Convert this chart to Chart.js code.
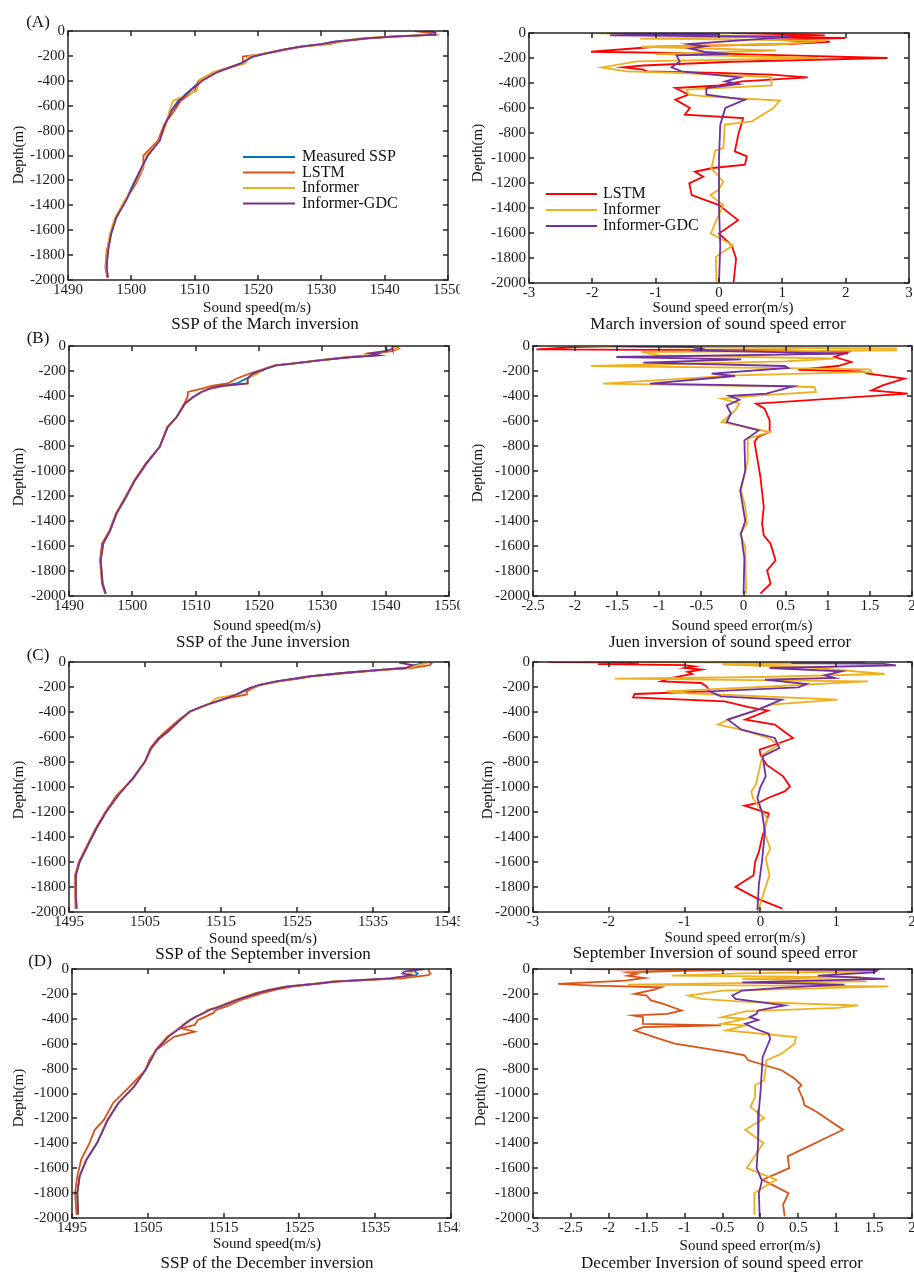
<!DOCTYPE html>
<html>
<head>
<meta charset="utf-8">
<script src="https://cdn.jsdelivr.net/npm/chart.js@4.4.0/dist/chart.umd.min.js"></script>
<style>
  body { margin: 0; background: #fff; width: 914px; height: 1272px; position: relative; overflow: hidden;
         font-family: "Liberation Serif", "Times New Roman", serif; color: #111; }
  canvas { position: absolute; }
  .t { position: absolute; white-space: nowrap; transform: translate(-50%, -50%); line-height: 1; }
  .yl { position: absolute; white-space: nowrap; transform: translate(-50%, -50%) rotate(-90deg); font-size: 15px; line-height: 1; }
</style>
</head>
<body>
<script>
// ---- tick labels ----
const depthTicks = [0, -200, -400, -600, -800, -1000, -1200, -1400, -1600, -1800, -2000];
const speedTicksAB = [1490, 1500, 1510, 1520, 1530, 1540, 1550];
const speedTicksCD = [1495, 1505, 1515, 1525, 1535, 1545];
const errTicksA = [-3, -2, -1, 0, 1, 2, 3];
const errTicksB = [-2.5, -2, -1.5, -1, -0.5, 0, 0.5, 1, 1.5, 2];
const errTicksC = [-3, -2, -1, 0, 1, 2];
const errTicksD = [-3, -2.5, -2, -1.5, -1, -0.5, 0, 0.5, 1, 1.5, 2];

// ---- (A) March: sound speed profiles ----
const marDepth = [0, -15, -30, -45, -60, -85, -105, -125, -150, -180, -205, -260, -330, -400, -480, -560, -640, -750, -880, -1000, -1100, -1230, -1360, -1500, -1630, -1770, -1900, -1980];
const marMeasured = [1546, 1547.5, 1547.8, 1541, 1537, 1532, 1530, 1526.6, 1524, 1521.3, 1519.2, 1517.3, 1513.5, 1511, 1509.2, 1507.4, 1506.3, 1505.3, 1504.4, 1502.6, 1501.6, 1500.3, 1499.1, 1497.6, 1496.8, 1496.3, 1496.1, 1496.3];
const marLstm = [1544.8, 1547, 1548, 1542, 1537.5, 1533, 1531.3, 1527, 1524.5, 1521.5, 1517.6, 1517.6, 1513, 1510.6, 1510, 1507.8, 1506.8, 1505.2, 1504.2, 1501.9, 1501.9, 1500.7, 1499, 1497.5, 1496.7, 1496.1, 1495.9, 1496.2];
const marInformer = [1547, 1548, 1547.5, 1540.5, 1536, 1533, 1530.5, 1527, 1524, 1521, 1518.5, 1518, 1513, 1510.8, 1510.3, 1506.6, 1506, 1505.5, 1504.4, 1502.4, 1501.8, 1500.5, 1499, 1497.4, 1496.6, 1496.2, 1496, 1496.3];
const marGdc = [1547, 1548, 1548, 1541, 1537, 1532.3, 1530, 1526.8, 1524, 1521.3, 1519.2, 1517.3, 1513.6, 1511.2, 1509.3, 1507.6, 1506.4, 1505.3, 1504.5, 1502.6, 1501.6, 1500.4, 1499.2, 1497.6, 1496.8, 1496.3, 1496.1, 1496.3];

// ---- (A) March: sound speed error ----
const marErrLstmDepth = [0, -8, -19, -30, -40, -55, -70, -88, -110, -150, -165, -200, -230, -260, -275, -293, -307, -320, -333, -355, -387, -420, -440, -493, -533, -600, -653, -680, -720, -800, -947, -987, -1053, -1080, -1110, -1150, -1203, -1297, -1377, -1497, -1604, -1698, -1805, -1992];
const marErrLstm = [0.2, 1.0, 1.67, 0.5, 1.99, 0.8, 1.75, 1.1, -1.0, -2.02, 0.0, 2.66, 0.2, -1.2, -1.51, -1.2, -1.14, 0.0, 0.83, 1.4, 0.36, 0.0, -0.69, -0.48, -0.69, -0.46, -0.54, 0.38, 0.36, 0.31, 0.25, 0.44, 0.41, -0.1, -0.38, -0.25, -0.47, -0.43, 0.0, 0.3, 0.0, 0.2, 0.27, 0.23];
const marErrInfDepth = [0, -8, -20, -30, -45, -61, -88, -110, -140, -168, -200, -227, -275, -307, -320, -340, -355, -419, -453, -493, -507, -541, -600, -707, -733, -920, -941, -1083, -1190, -1257, -1297, -1377, -1497, -1604, -1698, -1791, -1992];
const marErrInf = [-1.98, -1.5, 0.0, 1.0, -1.25, 1.69, 1.05, -1.22, 0.9, -1.0, 1.57, -1.3, -1.85, -1.46, -0.59, 0.3, 0.83, 0.83, -0.51, -0.48, -0.22, 0.96, 0.86, 0.52, 0.09, 0.07, -0.06, -0.12, 0.07, -0.01, -0.14, 0.07, -0.04, -0.13, 0.22, -0.05, -0.04];
const marErrGdcDepth = [0, -8, -19, -30, -53, -88, -107, -125, -152, -168, -179, -227, -275, -307, -355, -387, -408, -440, -493, -533, -600, -733, -1000, -1400, -1700, -1992];
const marErrGdc = [-1.77, 0.0, -1.72, 1.15, 0.5, -0.48, -0.22, -0.45, -0.22, 0.15, -0.67, -0.62, -0.75, -0.59, 0.33, 0.1, 0.31, -0.2, -0.2, 0.41, 0.1, 0.02, 0.0, 0.0, 0.02, 0.0];

// ---- (B) June: sound speed profiles ----
const junDepth = [0, -20, -40, -60, -75, -90, -115, -141, -155, -181, -221, -260, -300, -320, -341, -368, -408, -461, -568, -648, -808, -941, -1075, -1208, -1341, -1475, -1581, -1715, -1901, -1981];
const junMeasured = [1540, 1540, 1540.5, 1538.5, 1538, 1534, 1529.5, 1525.3, 1522.7, 1521.1, 1519.5, 1518, 1516.5, 1514, 1512.2, 1510.9, 1509.6, 1508.3, 1507, 1505.6, 1504.3, 1502.2, 1500.4, 1499, 1497.5, 1496.5, 1495.4, 1495, 1495.3, 1495.8];
const junLstm = [1541.5, 1542.1, 1541, 1538, 1538.5, 1534, 1529.5, 1525, 1522.5, 1521, 1518.5, 1516.5, 1515, 1512.5, 1511, 1508.8, 1508.7, 1508.2, 1507, 1505.5, 1504.3, 1502.1, 1500.3, 1498.9, 1497.4, 1496.4, 1495.2, 1494.9, 1495.2, 1495.7];
const junInformer = [1541, 1541.8, 1540.2, 1537, 1536.6, 1534, 1529.3, 1525.5, 1522.5, 1520.8, 1519.8, 1518.2, 1518.3, 1514.5, 1512.4, 1511, 1509.7, 1508.4, 1507, 1505.6, 1504.3, 1502.2, 1500.4, 1499, 1497.5, 1496.5, 1495.4, 1495, 1495.3, 1495.8];
const junGdc = [1541, 1541.1, 1540.3, 1537.4, 1539, 1534.3, 1529.5, 1525.3, 1522.7, 1521.1, 1519, 1518.2, 1518.2, 1514, 1512.2, 1510.9, 1509.6, 1508.3, 1507, 1505.6, 1504.3, 1502.2, 1500.4, 1499, 1497.5, 1496.5, 1495.4, 1495, 1495.3, 1495.8];

// ---- (B) June: sound speed error ----
const junErrLstmDepth = [0, -8, -27, -35, -48, -88, -128, -160, -190, -203, -221, -261, -315, -355, -381, -461, -501, -595, -688, -728, -768, -1048, -1288, -1421, -1515, -1581, -1715, -1795, -1901, -1981];
const junErrLstm = [-1.5, -2.0, -2.46, 0.5, 1.24, 1.08, 1.28, 1.12, 0.65, 1.4, 1.48, 1.91, 1.65, 1.52, 1.95, 0.15, 0.25, 0.31, 0.31, 0.17, 0.13, 0.2, 0.24, 0.22, 0.24, 0.32, 0.38, 0.28, 0.32, 0.2];
const junErrInfDepth = [0, -10, -20, -35, -48, -75, -100, -123, -160, -175, -187, -208, -235, -301, -328, -368, -395, -421, -460, -515, -608, -688, -741, -915, -1155, -1288, -1421, -1501, -1608, -1981];
const junErrInf = [-2.04, -1.0, 1.81, 1.81, -1.21, -1.0, 1.08, 0.5, -1.81, 0.21, 1.5, 1.52, -0.1, -1.67, 0.84, 0.86, 0.2, -0.26, -0.05, -0.1, -0.26, 0.31, 0.05, 0.05, -0.03, 0.02, 0.04, -0.04, 0.02, 0.03];
const junErrGdcDepth = [0, -8, -20, -35, -61, -88, -107, -133, -160, -176, -221, -240, -301, -323, -381, -400, -430, -475, -540, -608, -675, -755, -1000, -1155, -1400, -1501, -1700, -1981];
const junErrGdc = [-1.57, -0.62, -0.5, -0.58, 1.24, -1.51, -0.03, -1.19, 0.49, 0.53, -0.38, -0.1, -1.11, 0.59, 0.27, -0.17, -0.05, -0.2, -0.15, -0.2, 0.18, 0.01, 0.02, -0.04, 0.02, -0.03, 0.01, 0.0];

// ---- (C) September: sound speed profiles ----
const sepDepth = [0, -10, -25, -48, -61, -88, -115, -128, -155, -182, -209, -235, -260, -289, -342, -396, -449, -556, -610, -690, -797, -930, -1064, -1198, -1332, -1465, -1599, -1706, -1866, -1973];
const sepMeasured = [1541, 1541.5, 1540.5, 1539.3, 1536.3, 1531, 1526.6, 1525.3, 1522.3, 1520.1, 1518.8, 1517.9, 1517, 1515.7, 1513.1, 1510.9, 1509.9, 1508, 1506.9, 1505.8, 1505, 1503.4, 1501.5, 1499.9, 1498.6, 1497.5, 1496.4, 1495.9, 1495.9, 1496];
const sepLstm = [1542.3, 1542.7, 1542.5, 1540, 1537, 1531.5, 1527, 1525.6, 1522.6, 1520.3, 1519.2, 1518.4, 1518.4, 1515.9, 1513.2, 1511, 1509.7, 1507.7, 1506.7, 1505.7, 1505, 1503.5, 1501.3, 1499.8, 1498.5, 1497.4, 1496.3, 1495.8, 1495.8, 1495.9];
const sepInformer = [1541.5, 1542, 1541, 1539.5, 1536.5, 1531.2, 1526.8, 1525.5, 1522.6, 1520.2, 1519, 1518, 1517.2, 1514.4, 1513.3, 1511, 1509.9, 1508.1, 1507, 1505.9, 1505, 1503.4, 1501.5, 1499.9, 1498.6, 1497.5, 1496.4, 1495.9, 1495.9, 1496];
const sepGdc = [1539.3, 1538.8, 1540.2, 1539.3, 1536.3, 1531, 1526.6, 1525.3, 1522.3, 1520.1, 1518.8, 1517.9, 1517, 1515.7, 1513.1, 1510.9, 1509.9, 1508, 1506.9, 1505.8, 1505, 1503.4, 1501.5, 1499.9, 1498.6, 1497.5, 1496.4, 1495.9, 1495.9, 1496];

// ---- (C) September: sound speed error ----
const sepErrLstmDepth = [0, -5, -16, -25, -35, -48, -61, -80, -96, -130, -155, -168, -195, -235, -256, -283, -315, -363, -389, -461, -501, -568, -608, -648, -701, -741, -821, -915, -995, -1035, -1088, -1128, -1149, -1211, -1412, -1519, -1599, -1706, -1799, -1893, -1973];
const sepErrLstm = [-2.8, -1.6, -2.14, -1.0, -0.87, -1.0, -0.78, -0.96, -0.9, -1.2, -1.31, -0.78, -0.71, -0.67, -1.66, -1.68, -0.47, -0.14, 0.1, -0.2, 0.19, 0.34, 0.43, 0.25, -0.01, 0.0, 0.08, 0.3, 0.39, 0.32, 0.1, -0.03, -0.21, 0.11, 0.02, -0.02, -0.07, -0.09, -0.33, -0.04, 0.29];
const sepErrInfDepth = [0, -8, -20, -40, -96, -120, -133, -155, -200, -235, -250, -301, -341, -395, -461, -501, -541, -608, -661, -741, -981, -1035, -1088, -1150, -1251, -1358, -1492, -1572, -1706, -1893, -1987];
const sepErrInf = [-1.61, 1.0, -0.5, 0.6, 1.64, 0.0, -1.92, 1.42, 0.0, -1.24, -0.96, 1.02, 0.14, -0.1, -0.43, -0.56, -0.25, 0.1, 0.25, 0.03, -0.06, -0.12, -0.1, -0.03, 0.09, 0.05, 0.13, 0.07, 0.12, 0.02, -0.03];
const sepErrGdcDepth = [0, -8, -15, -27, -48, -75, -107, -128, -141, -176, -203, -235, -275, -301, -381, -461, -541, -608, -688, -755, -915, -1000, -1088, -1198, -1358, -1599, -1780, -1987];
const sepErrGdc = [1.38, 0.41, 1.62, 1.79, 0.12, 1.07, 0.85, 0.98, 0.06, 0.61, 0.5, -0.67, -0.52, 0.28, -0.03, -0.43, -0.25, 0.19, 0.25, 0.03, 0.07, 0.0, -0.04, 0.02, 0.06, 0.02, -0.02, -0.04];

// ---- (D) December: sound speed profiles ----
const decDepth = [0, -20, -35, -50, -75, -102, -115, -142, -168, -195, -249, -302, -329, -355, -382, -409, -449, -476, -503, -543, -650, -730, -810, -944, -1078, -1212, -1292, -1398, -1532, -1666, -1799, -1973];
const decMeasured = [1540, 1540.2, 1540.6, 1540.4, 1537.3, 1529.4, 1527.6, 1523.3, 1521.1, 1519.3, 1516.7, 1514.5, 1513.1, 1512.3, 1511.4, 1510.6, 1509.7, 1509.2, 1508.6, 1507.7, 1506.1, 1505.4, 1504.7, 1503.2, 1501.1, 1499.7, 1499.1, 1498.3, 1496.9, 1496, 1495.7, 1495.8];
const decLstm = [1542.1, 1542.1, 1542.3, 1542, 1538.5, 1530, 1528, 1524, 1521.8, 1520, 1517.3, 1515.3, 1514, 1513.6, 1512.6, 1511.6, 1511.2, 1509.4, 1511.2, 1508.5, 1506.1, 1505.2, 1504.7, 1502.6, 1500.4, 1499.2, 1498, 1497.3, 1496.2, 1495.7, 1495.4, 1495.6];
const decInformer = [1539.5, 1540, 1539.5, 1540, 1537.2, 1529, 1527.3, 1523, 1520.9, 1519, 1516.4, 1514.3, 1512.8, 1512.5, 1511.3, 1510.5, 1509.6, 1509.1, 1508.5, 1507.5, 1506, 1505.4, 1504.7, 1503.2, 1501.1, 1499.7, 1499.1, 1498.3, 1496.9, 1496, 1495.7, 1495.8];
const decGdc = [1541.5, 1538.8, 1538.6, 1539.8, 1537, 1529.5, 1527.6, 1523.3, 1521.1, 1519.3, 1516.7, 1514.5, 1513.1, 1512.3, 1511.4, 1510.6, 1509.7, 1509.2, 1508.6, 1507.7, 1506.1, 1505.4, 1504.7, 1503.2, 1501.1, 1499.7, 1499.1, 1498.3, 1496.9, 1496, 1495.7, 1495.8];

// ---- (D) December: sound speed error ----
const decErrLstmDepth = [0, -5, -10, -15, -27, -40, -55, -72, -93, -120, -133, -147, -165, -200, -213, -250, -280, -333, -360, -373, -387, -440, -453, -467, -493, -547, -600, -667, -693, -733, -813, -880, -933, -960, -1040, -1093, -1147, -1291, -1505, -1599, -1693, -1800, -1893, -1987];
const decErrLstm = [-2.3, -1.53, -0.47, -1.0, -1.75, -1.64, -1.75, -1.53, -1.78, -2.67, -2.19, -1.31, -1.4, -1.66, -1.5, -1.45, -1.28, -1.04, -1.23, -1.68, -1.55, -1.55, -0.52, -1.55, -1.66, -1.4, -1.13, -0.43, -0.21, -0.16, 0.28, 0.45, 0.54, 0.5, 0.56, 0.58, 0.74, 1.09, 0.36, 0.38, 0.03, 0.37, 0.3, 0.32];
const decErrInfDepth = [0, -10, -20, -35, -53, -65, -80, -100, -125, -140, -160, -173, -213, -240, -260, -293, -312, -340, -387, -400, -440, -453, -493, -520, -547, -600, -680, -733, -893, -933, -1027, -1107, -1198, -1291, -1398, -1599, -1693, -1800, -1973];
const decErrInf = [-0.5, 0.5, 1.5, -0.24, -1.17, 1.33, -0.24, 1.4, -1.75, 1.69, 0.5, -0.5, -0.95, -0.78, -0.3, 1.29, 1.02, -0.2, -0.51, -0.2, -0.51, -0.2, -0.45, 0.01, 0.47, 0.45, 0.28, 0.08, 0.05, -0.07, -0.07, -0.13, 0.05, -0.2, 0.04, -0.18, 0.21, -0.08, -0.08];
const decErrGdcDepth = [0, -8, -27, -53, -80, -107, -125, -150, -173, -213, -240, -293, -333, -360, -387, -410, -440, -480, -520, -560, -707, -1000, -1133, -1400, -1600, -1700, -1800, -1987];
const decErrGdc = [-1.06, 1.55, 1.5, 0.76, 1.64, -0.24, 1.11, 0.3, -0.24, -0.37, -0.33, 0.32, -0.03, -0.05, -0.14, -0.03, -0.2, -0.07, 0.11, 0.13, 0.03, 0.0, -0.02, -0.03, -0.05, 0.02, -0.02, -0.01];

// MATLAB default line colours
const BLUE = '#0072BD', ORANGE = '#D95319', YELLOW = '#EDB120', PURPLE = '#7E2F8E', RED = '#FF0000', VIOLET = '#7030A0';
const FONT = '"Liberation Serif", "Times New Roman", serif';

const prof = (depth, meas, lstm, inf, gdc) => [
  { label: 'Measured SSP', color: BLUE, depth: depth, values: meas },
  { label: 'LSTM', color: ORANGE, depth: depth, values: lstm },
  { label: 'Informer', color: YELLOW, depth: depth, values: inf },
  { label: 'Informer-GDC', color: PURPLE, depth: depth, values: gdc }
];
const errs = (lstmColor, ld, lv, id, iv, gd, gv) => [
  { label: 'LSTM', color: lstmColor, depth: ld, values: lv },
  { label: 'Informer', color: YELLOW, depth: id, values: iv },
  { label: 'Informer-GDC', color: VIOLET, depth: gd, values: gv }
];

// box, inward ticks on all four sides, and the in-plot legend
const matlabBox = {
  id: 'matlabBox',
  afterDatasetsDraw(chart, args, opts) {
    const { ctx, chartArea: a, scales: { x, y } } = chart;
    ctx.save();
    ctx.strokeStyle = '#262626';
    ctx.lineWidth = 1.5;
    ctx.beginPath();
    x.ticks.forEach(t => {
      const px = Math.round(x.getPixelForValue(t.value));
      ctx.moveTo(px, a.bottom); ctx.lineTo(px, a.bottom - 5);
      ctx.moveTo(px, a.top); ctx.lineTo(px, a.top + 5);
    });
    y.ticks.forEach(t => {
      const py = Math.round(y.getPixelForValue(t.value));
      ctx.moveTo(a.left, py); ctx.lineTo(a.left + 5, py);
      ctx.moveTo(a.right, py); ctx.lineTo(a.right - 5, py);
    });
    ctx.stroke();
    ctx.strokeRect(a.left, a.top, a.right - a.left, a.bottom - a.top);
    const lg = opts.legend;
    if (lg) {
      ctx.font = lg.size + 'px ' + FONT;
      ctx.textBaseline = 'middle';
      ctx.fillStyle = '#111';
      chart.data.datasets.forEach((ds, i) => {
        const yy = a.top + lg.y + i * lg.step;
        ctx.strokeStyle = ds.borderColor;
        ctx.lineWidth = 2;
        ctx.beginPath();
        ctx.moveTo(a.left + lg.x0, yy); ctx.lineTo(a.left + lg.x1, yy);
        ctx.stroke();
        ctx.fillText(ds.label, a.left + lg.tx, yy);
      });
    }
    ctx.restore();
  }
};

const panels = [
  { col: 0, plot: [68, 31, 448, 280], xr: [1490, 1550], xt: speedTicksAB,
    series: prof(marDepth, marMeasured, marLstm, marInformer, marGdc),
    legend: { x0: 175, x1: 227, tx: 234, y: 126, step: 15.5, size: 16 } },
  { col: 1, plot: [529, 33, 909, 283], xr: [-3, 3], xt: errTicksA,
    series: errs(RED, marErrLstmDepth, marErrLstm, marErrInfDepth, marErrInf, marErrGdcDepth, marErrGdc),
    legend: { x0: 17, x1: 68, tx: 74, y: 161, step: 16, size: 16 } },
  { col: 0, plot: [69, 346, 449, 596], xr: [1490, 1550], xt: speedTicksAB,
    series: prof(junDepth, junMeasured, junLstm, junInformer, junGdc) },
  { col: 1, plot: [533, 346, 912, 596], xr: [-2.5, 2], xt: errTicksB,
    series: errs(RED, junErrLstmDepth, junErrLstm, junErrInfDepth, junErrInf, junErrGdcDepth, junErrGdc) },
  { col: 0, plot: [69, 662, 449, 912], xr: [1495, 1545], xt: speedTicksCD,
    series: prof(sepDepth, sepMeasured, sepLstm, sepInformer, sepGdc) },
  { col: 1, plot: [533, 662, 912, 912], xr: [-3, 2], xt: errTicksC,
    series: errs(RED, sepErrLstmDepth, sepErrLstm, sepErrInfDepth, sepErrInf, sepErrGdcDepth, sepErrGdc) },
  { col: 0, plot: [72, 969, 451, 1218], xr: [1495, 1545], xt: speedTicksCD,
    series: prof(decDepth, decMeasured, decLstm, decInformer, decGdc) },
  { col: 1, plot: [533, 969, 912, 1218], xr: [-3, 2], xt: errTicksD,
    series: errs(ORANGE, decErrLstmDepth, decErrLstm, decErrInfDepth, decErrInf, decErrGdcDepth, decErrGdc) }
];

const fmt = v => String(Math.round(v * 10) / 10);

function makePanel(p) {
  const cx = p.col ? 460 : 0, cw = p.col ? 454 : 460;
  const padTop = 14, xH = 24;
  const cv = document.createElement('canvas');
  cv.width = cw;
  cv.height = p.plot[3] - p.plot[1] + padTop + xH;
  cv.style.left = cx + 'px';
  cv.style.top = (p.plot[1] - padTop) + 'px';
  document.body.appendChild(cv);
  const yW = p.plot[0] - cx, padR = cx + cw - p.plot[2];
  const tickFont = { family: FONT, size: 15 };
  const n = p.series.length;

  new Chart(cv, {
    type: 'scatter',
    data: {
      datasets: p.series.map((s, i) => ({
        label: s.label,
        data: s.depth.map((d, k) => ({ x: s.values[k], y: d })),
        showLine: true,
        borderColor: s.color,
        backgroundColor: s.color,
        borderWidth: 1.8,
        pointRadius: 0,
        tension: 0,
        order: n - 1 - i   // later series drawn on top, as in MATLAB
      }))
    },
    options: {
      responsive: false,
      animation: false,
      devicePixelRatio: 1,
      layout: { padding: { top: padTop, right: padR, left: 0, bottom: 0 } },
      plugins: {
        legend: { display: false },
        tooltip: { enabled: false },
        matlabBox: { legend: p.legend }
      },
      scales: {
        x: {
          type: 'linear', min: p.xr[0], max: p.xr[1],
          afterBuildTicks: s => { s.ticks = p.xt.map(v => ({ value: v })); },
          ticks: { font: tickFont, color: '#1a1a1a', padding: 1, maxRotation: 0, autoSkip: false, callback: fmt },
          grid: { drawOnChartArea: false, drawTicks: false },
          border: { display: false },
          afterFit: s => { s.height = xH; s.paddingLeft = 0; s.paddingRight = 0; }
        },
        y: {
          type: 'linear', min: -2000, max: 0,
          afterBuildTicks: s => { s.ticks = depthTicks.map(v => ({ value: v })); },
          ticks: { font: tickFont, color: '#1a1a1a', padding: 3, autoSkip: false, callback: fmt },
          grid: { drawOnChartArea: false, drawTicks: false },
          border: { display: false },
          afterFit: s => { s.width = yW; s.paddingTop = 0; s.paddingBottom = 0; }
        }
      }
    },
    plugins: [matlabBox]
  });
}

panels.forEach(makePanel);

// titles, axis names and panel letters
const texts = [
  ['(A)', 38, 21, 17], ['(B)', 38, 337, 17], ['(C)', 38, 654, 17], ['(D)', 40, 960, 17],
  ['Sound speed(m/s)', 257, 307, 15], ['SSP of the March inversion', 265, 323, 17],
  ['Sound speed error(m/s)', 723, 307, 15], ['March inversion of sound speed error', 718, 323, 17],
  ['Sound speed(m/s)', 267, 625, 15], ['SSP of the June inversion', 263, 641, 17],
  ['Sound speed error(m/s)', 742, 625, 15], ['Juen inversion of sound speed error', 730, 641, 17],
  ['Sound speed(m/s)', 263, 938, 15], ['SSP of the September inversion', 263, 953, 17],
  ['Sound speed error(m/s)', 735, 937, 15], ['September Inversion of sound speed error', 715, 952, 17],
  ['Sound speed(m/s)', 267, 1243, 15], ['SSP of the December inversion', 267, 1262, 17],
  ['Sound speed error(m/s)', 750, 1245, 15], ['December Inversion of sound speed error', 722, 1262, 17]
];
texts.forEach(([s, x, y, size]) => {
  const d = document.createElement('div');
  d.className = 't';
  d.textContent = s;
  d.style.left = x + 'px';
  d.style.top = y + 'px';
  d.style.fontSize = size + 'px';
  document.body.appendChild(d);
});
const depthLabels = [[18, 155], [477, 153], [18, 477], [477, 473], [18, 790], [487, 790], [18, 1098], [480, 1097]];
depthLabels.forEach(([x, y]) => {
  const d = document.createElement('div');
  d.className = 'yl';
  d.textContent = 'Depth(m)';
  d.style.left = x + 'px';
  d.style.top = y + 'px';
  document.body.appendChild(d);
});
</script>
</body>
</html>
